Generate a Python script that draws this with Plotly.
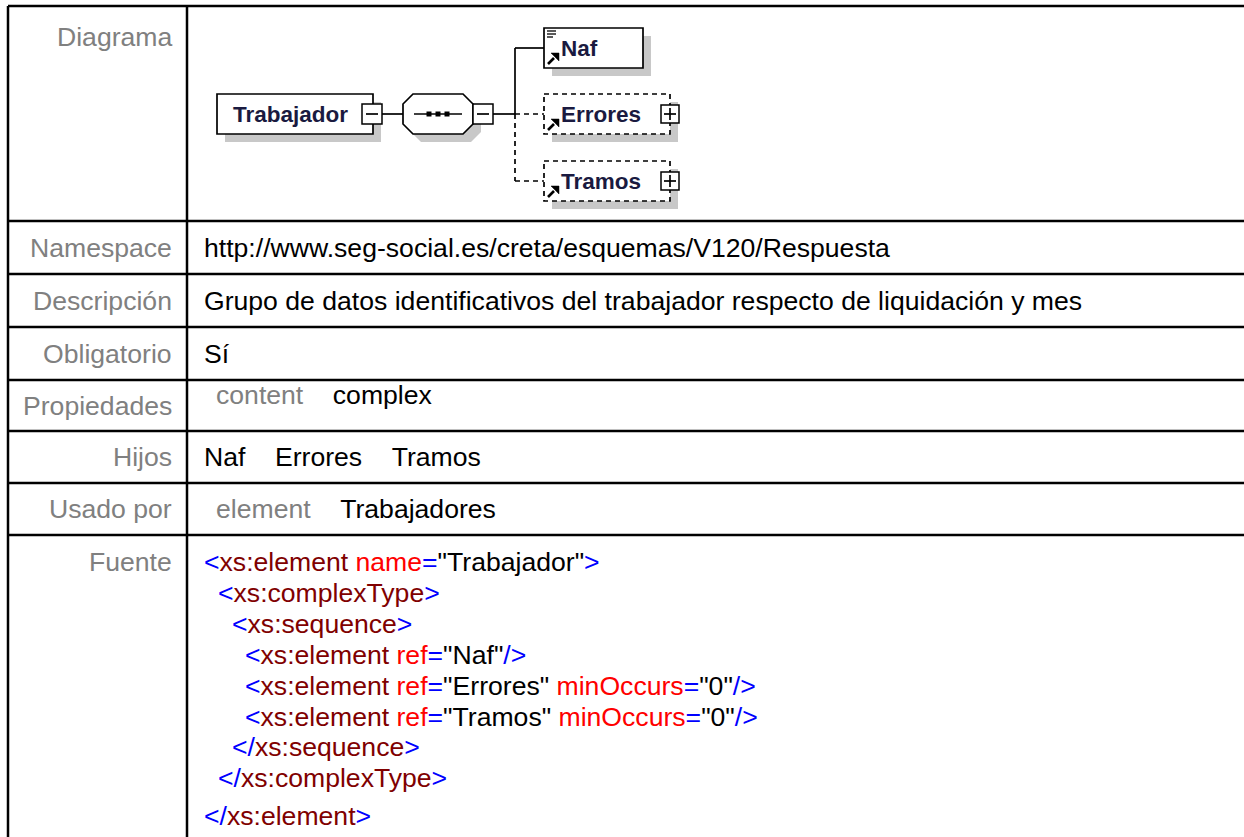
import plotly.graph_objects as go

W, H = 1244, 837

# ---------------- data ----------------
row_labels = ["Diagrama", "Namespace", "Descripción", "Obligatorio",
              "Propiedades", "Hijos", "Usado por", "Fuente"]
namespace_value = "http://www.seg-social.es/creta/esquemas/V120/Respuesta"
descripcion_value = "Grupo de datos identificativos del trabajador respecto de liquidación y mes"
obligatorio_value = "Sí"
propiedades_keys = ["content"]
propiedades_values = ["complex"]
hijos_values = ["Naf", "Errores", "Tramos"]
usado_por_keys = ["element"]
usado_por_values = ["Trabajadores"]

root_element = "Trabajador"
child_elements = ["Naf", "Errores", "Tramos"]
child_optional = [False, True, True]
child_expandable = [False, True, True]
child_simple = [True, False, False]

# source listing: (indent level, [(token class, text), ...])
source_lines = [
    (0, [("tgt", "&lt;"), ("tgn", "xs:element"), ("tgn", " "), ("atn", "name"), ("tgt", "="),
         ("atv", "\"Trabajador\""), ("tgt", "&gt;")]),
    (1, [("tgt", "&lt;"), ("tgn", "xs:complexType"), ("tgt", "&gt;")]),
    (2, [("tgt", "&lt;"), ("tgn", "xs:sequence"), ("tgt", "&gt;")]),
    (3, [("tgt", "&lt;"), ("tgn", "xs:element"), ("tgn", " "), ("atn", "ref"), ("tgt", "="),
         ("atv", "\"Naf\""), ("tgt", "/&gt;")]),
    (3, [("tgt", "&lt;"), ("tgn", "xs:element"), ("tgn", " "), ("atn", "ref"), ("tgt", "="),
         ("atv", "\"Errores\""), ("atv", " "), ("atn", "minOccurs"), ("tgt", "="),
         ("atv", "\"0\""), ("tgt", "/&gt;")]),
    (3, [("tgt", "&lt;"), ("tgn", "xs:element"), ("tgn", " "), ("atn", "ref"), ("tgt", "="),
         ("atv", "\"Tramos\""), ("atv", " "), ("atn", "minOccurs"), ("tgt", "="),
         ("atv", "\"0\""), ("tgt", "/&gt;")]),
    (2, [("tgt", "&lt;/"), ("tgn", "xs:sequence"), ("tgt", "&gt;")]),
    (1, [("tgt", "&lt;/"), ("tgn", "xs:complexType"), ("tgt", "&gt;")]),
    (0, [("tgt", "&lt;/"), ("tgn", "xs:element"), ("tgt", "&gt;")]),
]

# ---------------- styles / layout ----------------
FONT = "Liberation Sans, Arial, Helvetica, sans-serif"
FS = 26.6
LABEL_COLOR = "#808080"
TEXT_COLOR = "#000000"
TOKEN_COLORS = {"tgt": "#0000FF", "tgn": "#800000", "atn": "#FF0000", "atv": "#000000"}
DIAG_TEXT = "#1a1a40"
SHADOW = "#C8C8C8"

TABLE_LEFT = 8
COL_X = 187
TABLE_RIGHT = 1300
BOTTOM = 900
row_edges = [6, 221, 274, 327, 380, 431, 483, 535, BOTTOM]
LABEL_RIGHT = 174
VALUE_LEFT = 202
GAP = "\u00a0" * 4

shapes = []
annotations = []


def line(x0, y0, x1, y1, width=2, color="black", dash="solid"):
    shapes.append(dict(type="line", xref="x", yref="y", x0=x0, y0=y0, x1=x1, y1=y1,
                       line=dict(color=color, width=width, dash=dash)))


def rect(x0, y0, x1, y1, fill="white", lw=1.5, color="black", dash="solid"):
    shapes.append(dict(type="rect", xref="x", yref="y", x0=x0, y0=y0, x1=x1, y1=y1,
                       fillcolor=fill, line=dict(color=color, width=lw, dash=dash)))


def path(p, fill=None, lw=1.5, color="black"):
    d = dict(type="path", xref="x", yref="y", path=p, line=dict(color=color, width=lw))
    if fill:
        d["fillcolor"] = fill
    shapes.append(d)


def text(x, y, s, color=TEXT_COLOR, size=FS, anchor="left", family=FONT):
    annotations.append(dict(x=x, y=y, xref="x", yref="y", text=s, showarrow=False,
                            xanchor=anchor, yanchor="middle",
                            font=dict(family=family, size=size, color=color)))


# ---------------- table grid ----------------
for y in row_edges[:-1]:
    line(TABLE_LEFT, y, TABLE_RIGHT, y, width=2.5)
line(TABLE_LEFT, row_edges[0], TABLE_LEFT, BOTTOM, width=2.5)
line(COL_X, row_edges[0], COL_X, BOTTOM, width=2.5)

# ---------------- labels ----------------
for i, lab in enumerate(row_labels):
    top, bot = row_edges[i], row_edges[i + 1]
    if lab == "Diagrama":
        y = top + 31
    elif lab == "Fuente":
        y = top + 27
    else:
        y = (top + bot) / 2
    text(LABEL_RIGHT, y, lab, color=LABEL_COLOR, anchor="right")


def mid(i):
    return (row_edges[i] + row_edges[i + 1]) / 2


text(VALUE_LEFT, mid(1), namespace_value)
text(VALUE_LEFT, mid(2), descripcion_value)
text(VALUE_LEFT, mid(3), obligatorio_value)
for k, v in zip(propiedades_keys, propiedades_values):
    text(VALUE_LEFT + 12, mid(4) - 11,
         f'<span style="color:{LABEL_COLOR}">{k}</span>{GAP}<span style="color:{TEXT_COLOR}">{v}</span>')
text(VALUE_LEFT, mid(5), GAP.join(hijos_values))
for k, v in zip(usado_por_keys, usado_por_values):
    text(VALUE_LEFT + 12, mid(6),
         f'<span style="color:{LABEL_COLOR}">{k}</span>{GAP}<span style="color:{TEXT_COLOR}">{v}</span>')

# source listing
SRC_TOP = row_edges[7] + 27
SRC_STEP = 30.9
INDENT = 13.8
for j, (lvl, toks) in enumerate(source_lines):
    y = SRC_TOP + j * SRC_STEP + (7 if j == len(source_lines) - 1 else 0)
    s = "".join(f'<span style="color:{TOKEN_COLORS[c]}">{t}</span>' for c, t in toks)
    text(VALUE_LEFT + lvl * INDENT, y, s)

# ---------------- diagram ----------------
SH = 8           # shadow offset
CY = 114         # main connector y
DASH = "5px,4px"
# root element
rx0, ry0, rx1, ry1 = 217, 94, 373, 134
rect(rx0 + SH, ry0 + SH, rx1 + SH, ry1 + SH, fill=SHADOW, lw=0)
rect(rx0, ry0, rx1, ry1, lw=1.7)
text(rx0 + 14, CY, f"<b>{root_element}</b>", color=DIAG_TEXT, size=22.5)


def minus_box(cx, cy, s=10):
    rect(cx - s, cy - s, cx + s, cy + s, lw=1.5)
    line(cx - 6, cy, cx + 6, cy, width=1.7)


def plus_box(cx, cy, s=9):
    rect(cx - s, cy - s, cx + s, cy + s, lw=1.5)
    line(cx - 6, cy, cx + 6, cy, width=1.7)
    line(cx, cy - 6, cx, cy + 6, width=1.7)


minus_box(rx1 - 1, CY)
# connector to sequence
line(rx1 + 9, CY, 403, CY, width=1.7)
# sequence octagon
ox0, ox1, oy0, oy1, c = 403, 473, 94, 134, 10


def octa(dx):
    return (f"M {ox0 + c + dx} {oy0 + dx} L {ox1 - c + dx} {oy0 + dx} L {ox1 + dx} {oy0 + c + dx} "
            f"L {ox1 + dx} {oy1 - c + dx} L {ox1 - c + dx} {oy1 + dx} L {ox0 + c + dx} {oy1 + dx} "
            f"L {ox0 + dx} {oy1 - c + dx} L {ox0 + dx} {oy0 + c + dx} Z")


path(octa(SH), fill=SHADOW, lw=0, color=SHADOW)
path(octa(0), fill="white", lw=1.7)
line(414, CY, 462, CY, width=1.7)
for sx in (429, 438, 447):
    rect(sx - 2.5, CY - 2.5, sx + 2.5, CY + 2.5, fill="black", lw=0)
minus_box(ox1 + 10, CY)

# branch connectors
BX = 515
line(ox1 + 20, CY, BX, CY, width=1.7)
child_cy = [48, 114, 181]
bx0 = 544
for name, cy, opt, exp, simple in zip(child_elements, child_cy, child_optional,
                                      child_expandable, child_simple):
    dash = DASH if opt else "solid"
    if cy != CY:
        line(BX, CY, BX, cy, width=1.7, dash=dash)
    line(BX, cy, bx0, cy, width=1.7, dash=dash)
    bx1 = 670 if exp else 643
    y0, y1 = cy - 20, cy + 20
    rect(bx0 + SH, y0 + SH, bx1 + SH, y1 + SH, fill=SHADOW, lw=0)
    rect(bx0, y0, bx1, y1, lw=1.7, dash=dash)
    text(bx0 + 15, cy, f"<b>{name}</b>", color=DIAG_TEXT, size=22.5)
    # reference arrow icon (bottom-left)
    ax, ay = bx0 + 4, y1 - 4
    line(ax, ay, ax + 6, ay - 6, width=2.6)
    path(f"M {ax + 3} {ay - 11} L {ax + 11} {ay - 11} L {ax + 11} {ay - 3} Z",
         fill="black", lw=0.5)
    if simple:
        for k in range(3):
            line(bx0 + 3, y0 + 3 + k * 3, bx0 + 12 - (3 if k == 2 else 0), y0 + 3 + k * 3, width=1.3)
    if exp:
        plus_box(bx1, cy)

fig = go.Figure()
fig.update_layout(
    width=W, height=H,
    margin=dict(l=0, r=0, t=0, b=0),
    paper_bgcolor="white", plot_bgcolor="white",
    xaxis=dict(range=[0, W], visible=False, fixedrange=True),
    yaxis=dict(range=[H, 0], visible=False, fixedrange=True),
    shapes=shapes,
    annotations=annotations,
    showlegend=False,
)
fig.write_html("out.html", config={"displayModeBar": False},
               post_script="document.body.style.margin='0';document.body.style.overflow='hidden';")
